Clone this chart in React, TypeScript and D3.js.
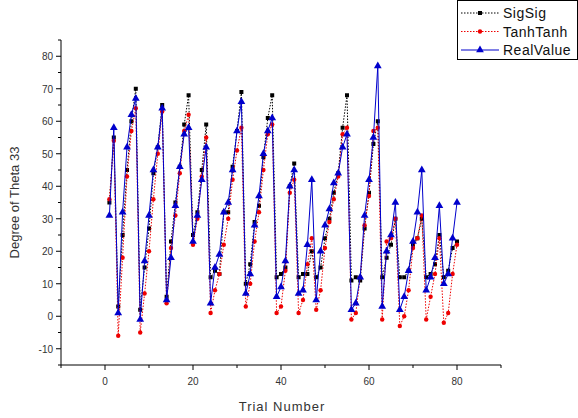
import React from 'react';
import * as d3 from 'd3';

// values, trials 1..80
const realValue = [
  31, 58, 1, 32, 52, 62, 67, -1, 17, 31, 45, 52, 64, 5, 18, 34, 46, 56, 58, 23,
  31, 42, 52, 4, 15, 19, 32, 35, 45, 57, 66, 7, 13, 28, 37, 50, 57, 61, 6, 9,
  17, 40, 45, 7, 8, 22, 42, 5, 20, 28, 33, 41, 44, 52, 56, 2, 4, 12, 31, 42,
  55, 77, 3, 20, 25, 35, 2, 6, 14, 23, 32, 45, 8, 12, 18, 34, 10, 13, 24, 35,
];
const sigSig = [
  35, 55, 3, 25, 45, 60, 70, 2, 15, 27, 44, 52, 65, 6, 23, 35, 46, 59, 68, 25,
  32, 45, 59, 12, 14, 13, 32, 32, 46, 57, 69, 10, 16, 29, 34, 49, 61, 68, 12, 13,
  15, 40, 47, 12, 13, 13, 20, 12, 15, 24, 30, 38, 44, 58, 68, 11, 12, 11, 27, 38,
  53, 60, 12, 18, 22, 30, 12, 12, 14, 22, 24, 30, 12, 13, 16, 25, 12, 14, 21, 23,
];
const tanhTanh = [
  36, 54, -6, 18, 43, 57, 64, -5, 7, 20, 36, 50, 63, 4, 21, 31, 44, 57, 62, 22,
  30, 43, 55, 1, 8, 13, 22, 30, 42, 51, 58, 3, 10, 23, 32, 45, 56, 59, 1, 3,
  14, 38, 42, 1, 5, 16, 24, 2, 8, 21, 29, 36, 43, 56, 58, -1, 1, 12, 28, 37,
  57, 58, -1, 23, 24, 30, -3, 0, 8, 21, 24, 31, -1, 6, 13, 24, -2, 1, 13, 22,
];
const trials = d3.range(1, 81);
const xTicks = [0, 20, 40, 60, 80];
const yTicks = [-10, 0, 10, 20, 30, 40, 50, 60, 70, 80];

const W = 578;
const H = 418;
const left = 61;
const right = 501;
const top = 40;
const bottom = 365;

const x = d3.scaleLinear().domain([-10, 90]).range([left, right]);
const y = d3.scaleLinear().domain([-15, 85]).range([bottom, top]);

const line = (vals: number[]) =>
  d3.line<number>().x((_, i) => x(trials[i])).y((d) => y(d))(vals) || '';

const font = 'Liberation Sans, Arial, sans-serif';

const Marker = ({ kind, cx, cy }: { kind: string; cx: number; cy: number }) => {
  if (kind === 'square')
    return <rect x={cx - 2} y={cy - 2} width={4} height={4} fill="#000" />;
  if (kind === 'circle') return <circle cx={cx} cy={cy} r={2.2} fill="#e00" />;
  const tri = d3.symbol(d3.symbolTriangle, 26)() || '';
  return <path d={tri} transform={`translate(${cx},${cy})`} fill="#00c" />;
};

const series = [
  { name: 'SigSig', vals: sigSig, color: '#000', dash: '1.5,1.5', marker: 'square' },
  { name: 'TanhTanh', vals: tanhTanh, color: '#e00', dash: '1.5,1.5', marker: 'circle' },
  { name: 'RealValue', vals: realValue, color: '#00c', dash: undefined, marker: 'triangle' },
];

export default function App() {
  return (
    <svg
      width={W}
      height={H}
      style={{ position: 'absolute', left: 0, top: 0, background: '#fff' }}
      fontFamily={font}
    >
      <rect width={W} height={H} fill="#fff" />

      {/* axes */}
      <line x1={left} x2={left} y1={top} y2={bottom} stroke="#000" />
      <line x1={left} x2={right} y1={bottom} y2={bottom} stroke="#000" />
      {d3.range(-15, 86, 5).map((t) => (
        <line
          key={'yt' + t}
          x1={left}
          x2={left - (t % 10 === 0 ? 5 : 3)}
          y1={y(t)}
          y2={y(t)}
          stroke="#000"
        />
      ))}
      {yTicks.map((t) => (
        <text key={'yl' + t} x={left - 8} y={y(t) + 4} fontSize={10} textAnchor="end" fill="#333">
          {t}
        </text>
      ))}
      {d3.range(-10, 91, 10).map((t) => (
        <line
          key={'xt' + t}
          x1={x(t)}
          x2={x(t)}
          y1={bottom}
          y2={bottom + (t % 20 === 0 ? 5 : 3)}
          stroke="#000"
        />
      ))}
      {xTicks.map((t) => (
        <text key={'xl' + t} x={x(t)} y={bottom + 20} fontSize={10} textAnchor="middle" fill="#333">
          {t}
        </text>
      ))}
      <text x={282} y={411} fontSize={13} textAnchor="middle" letterSpacing={1} fill="#333">
        Trial Number
      </text>
      <text
        transform={`translate(19,${(top + bottom) / 2}) rotate(-90)`}
        fontSize={13}
        textAnchor="middle"
        fill="#333"
      >
        Degree of Theta 33
      </text>

      {/* series */}
      {series.map((s) => (
        <g key={s.name}>
          <path d={line(s.vals)} fill="none" stroke={s.color} strokeWidth={1} strokeDasharray={s.dash} />
          {s.vals.map((v, i) => (
            <Marker key={i} kind={s.marker} cx={x(trials[i])} cy={y(v)} />
          ))}
        </g>
      ))}

      {/* legend */}
      <rect x={457.5} y={0.5} width={120} height={59} fill="#fff" stroke="#000" />
      {series.map((s, i) => {
        const ly = 13 + i * 18.5;
        return (
          <g key={'lg' + s.name}>
            <line x1={461} x2={499} y1={ly} y2={ly} stroke={s.color} strokeDasharray={s.dash} />
            <Marker kind={s.marker} cx={480} cy={ly} />
            <text x={503} y={ly + 5} fontSize={14} fill="#111" letterSpacing={0.5}>
              {s.name}
            </text>
          </g>
        );
      })}
    </svg>
  );
}
